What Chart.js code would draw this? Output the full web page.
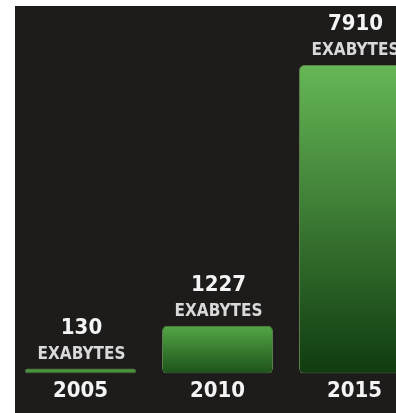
<!DOCTYPE html>
<html>
<head>
<meta charset="utf-8">
<script src="https://cdn.jsdelivr.net/npm/chart.js@4.4.1/dist/chart.umd.min.js"></script>
<style>
  html, body { margin: 0; padding: 0; background: #ffffff; overflow: hidden; width: 396px; height: 413px; }
  #wrap { position: relative; width: 440px; height: 413px; }
</style>
</head>
<body>
<div id="wrap"><canvas id="c" width="440" height="413"></canvas></div>
<script>
// Yearly data volume, in exabytes
const years = ['2005', '2010', '2015'];
const exabytes = [130, 1227, 7910];
const unitLabel = 'EXABYTES';

// Per-bar gradient ends (top, bottom)
const barTop = ['#5fb04e', '#54a646', '#66b756'];
const barBottom = ['#2f7a2a', '#1d5219', '#103b10'];

const FONT = "'DejaVu Sans Condensed', 'DejaVu Sans', sans-serif";

const panelBackground = {
  id: 'panelBackground',
  beforeDraw(chart) {
    const ctx = chart.ctx;
    ctx.save();
    ctx.fillStyle = '#1e1b1b';
    ctx.fillRect(15, 6, chart.width - 15, chart.height - 6);
    ctx.restore();
  }
};

const valueLabels = {
  id: 'valueLabels',
  afterDatasetsDraw(chart) {
    const ctx = chart.ctx;
    const meta = chart.getDatasetMeta(0);
    ctx.save();
    ctx.textAlign = 'center';
    ctx.textBaseline = 'alphabetic';
    meta.data.forEach((bar, i) => {
      ctx.fillStyle = '#f4f4f4';
      ctx.font = 'bold 22px ' + FONT;
      ctx.fillText(String(exabytes[i]), bar.x + 1, bar.y - 35);
      ctx.fillStyle = '#d9d9d9';
      ctx.font = 'bold 17px ' + FONT;
      ctx.fillText(unitLabel, bar.x + 1, bar.y - 10);
    });
    ctx.restore();
  }
};

function barFill(context) {
  const chart = context.chart;
  const i = context.dataIndex;
  if (!chart.chartArea || !chart.scales.y) return barTop[i];
  const yScale = chart.scales.y;
  const top = yScale.getPixelForValue(exabytes[i]);
  const base = yScale.getPixelForValue(0);
  const g = chart.ctx.createLinearGradient(0, top, 0, Math.max(base, top + 1));
  g.addColorStop(0, barTop[i]);
  g.addColorStop(1, barBottom[i]);
  return g;
}

new Chart(document.getElementById('c'), {
  type: 'bar',
  data: {
    labels: years,
    datasets: [{
      data: exabytes,
      backgroundColor: barFill,
      borderColor: 'rgba(140, 215, 115, 0.55)',
      borderWidth: 1,
      borderRadius: 5,
      borderSkipped: false,
      barPercentage: 0.81,
      categoryPercentage: 1.0
    }]
  },
  options: {
    responsive: false,
    animation: false,
    layout: { padding: { left: 12, right: 17, top: 65, bottom: 5 } },
    plugins: { legend: { display: false }, tooltip: { enabled: false } },
    scales: {
      x: {
        grid: { display: false, drawTicks: false },
        border: { display: false },
        ticks: {
          color: '#f4f4f4',
          padding: 4,
          font: { family: FONT, size: 22, weight: 'bold' }
        }
      },
      y: {
        display: false,
        min: 0,
        max: Math.max(...exabytes)
      }
    }
  },
  plugins: [panelBackground, valueLabels]
});
</script>
</body>
</html>
